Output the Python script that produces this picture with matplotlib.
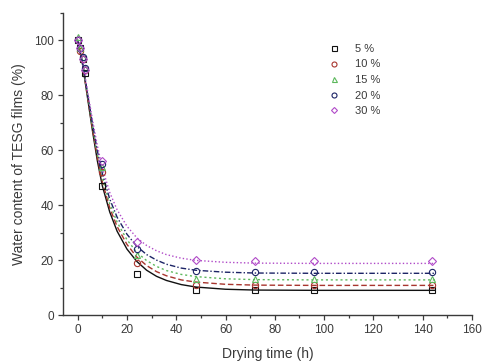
import matplotlib
matplotlib.use("Agg")
import matplotlib.pyplot as plt
from matplotlib.ticker import MultipleLocator

plt.rcParams["font.family"] = ["Liberation Sans", "DejaVu Sans"]

# measured points
SERIES = ["5 %", "10 %", "15 %", "20 %", "30 %"]
TIME_H = [0, 1, 2, 3, 10, 24, 48, 72, 96, 144]
WATER_5 = [100, 97, 93, 88, 47, 15, 9.2, 9, 9, 9]
WATER_10 = [100, 96, 93, 89, 52, 19, 11, 11, 11, 11]
WATER_15 = [101, 97, 94, 90, 54, 22, 13, 13, 13, 13]
WATER_20 = [100, 97, 94, 90, 55, 24, 16.2, 15.5, 15.5, 15.5]
WATER_30 = [100, 97, 93, 89, 56, 26.5, 20, 19.5, 19.5, 19.5]

# fitted curves
FIT_T = [0, 2, 4, 6, 8, 10, 13, 16, 20, 24, 28, 32, 36, 42, 48, 60, 72, 96, 120, 145]
FIT_5 = [100, 91.0, 79.0, 67.0, 56.0, 47.0, 37.5, 30.5, 24.0, 19.5, 16.3, 14.1, 12.6,
         11.1, 10.2, 9.4, 9.1, 9.0, 9.0, 9.0]
FIT_10 = [100, 91.2, 79.5, 67.8, 57.3, 48.5, 39.0, 32.2, 25.7, 21.1, 18.0, 15.8, 14.3,
          12.8, 12.0, 11.2, 10.9, 10.8, 10.8, 10.8]
FIT_15 = [100, 91.4, 80.0, 68.6, 58.4, 50.0, 40.5, 33.8, 27.4, 22.8, 19.8, 17.7, 16.2,
          14.8, 14.0, 13.2, 12.9, 12.8, 12.8, 12.8]
FIT_20 = [100, 91.6, 80.6, 69.6, 59.6, 51.5, 42.2, 35.6, 29.4, 25.0, 22.0, 20.0, 18.5,
          17.1, 16.3, 15.6, 15.3, 15.2, 15.2, 15.2]
FIT_30 = [100, 92.0, 81.5, 71.0, 61.5, 53.5, 44.6, 38.3, 32.3, 28.1, 25.3, 23.4, 22.0,
          20.7, 19.9, 19.2, 18.9, 18.8, 18.8, 18.8]

INK = "#3a3a3a"
STYLES = [
    ("#111111", "s", "-"),
    ("#a8352e", "o", (0, (4, 2))),
    ("#5cb85c", "^", (0, (1.5, 2))),
    ("#1c2466", "o", (0, (4, 1.5, 1, 1.5))),
    ("#b04ac8", "D", (0, (1, 1.6))),
]

fig = plt.figure(figsize=(4.84, 3.63), dpi=100, facecolor="white")
ax = fig.add_axes([0.130, 0.132, 0.845, 0.833])

points = [WATER_5, WATER_10, WATER_15, WATER_20, WATER_30]
fits = [FIT_5, FIT_10, FIT_15, FIT_20, FIT_30]
for name, pts, fit, (col, mk, ls) in zip(SERIES, points, fits, STYLES):
    ax.plot(FIT_T, fit, color=col, lw=1.0, ls=ls, zorder=2)
    ax.plot(TIME_H, pts, ls="none", marker=mk, ms=4.5 if mk != "D" else 3.8,
            mfc="none", mec=col, mew=0.8, label=name, zorder=3)

ax.set_xlim(-6, 160)
ax.set_ylim(0, 110)
ax.xaxis.set_major_locator(MultipleLocator(20))
ax.xaxis.set_minor_locator(MultipleLocator(10))
ax.set_yticks([0, 20, 40, 60, 80, 100])
ax.yaxis.set_minor_locator(MultipleLocator(10))
ax.tick_params(which="both", direction="out", colors=INK, labelsize=8.5, width=0.9)
ax.tick_params(which="major", length=3.5, pad=3)
ax.tick_params(which="minor", length=2)
for s in ("top", "right"):
    ax.spines[s].set_visible(False)
for s in ("left", "bottom"):
    ax.spines[s].set_color(INK)
    ax.spines[s].set_linewidth(1.0)

ax.set_xlabel("Drying time (h)", fontsize=10, color=INK, labelpad=8)
ax.set_ylabel("Water content of TESG films (%)", fontsize=10, color=INK, labelpad=6)

leg = ax.legend(loc="upper left", bbox_to_anchor=(0.621, 0.93), frameon=False,
                fontsize=8, handlelength=1.2, handletextpad=1.3,
                labelspacing=0.5, markerscale=0.8)
for t in leg.get_texts():
    t.set_color(INK)

fig.savefig("out.png", dpi=100, facecolor="white")
